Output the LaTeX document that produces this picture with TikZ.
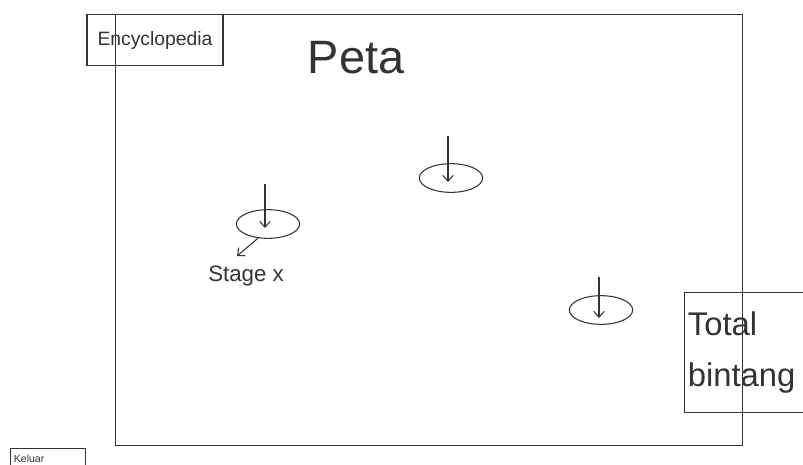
\documentclass[tikz,border=0pt]{standalone}
\usepackage{fontspec}
\setmainfont{Liberation Sans}
\usetikzlibrary{positioning,arrows.meta,shapes.geometric}
\definecolor{pencil}{HTML}{333333}

\begin{document}
\begin{tikzpicture}[
    x=0.03cm, y=-0.03cm,
    panel/.style={rectangle, draw=pencil, line width=0.9pt, inner sep=0pt},
    stageNode/.style={ellipse, draw=pencil, line width=0.9pt, minimum width=1.9cm, minimum height=0.86cm, inner sep=0pt},
    pinArrow/.style={-{Straight Barb[length=5pt,width=9pt]}, draw=pencil, line width=0.9pt}
]
    \useasboundingbox (0,0) rectangle (803,464);

    % map area
    \node[panel, anchor=north west, minimum width=18.81cm, minimum height=12.93cm] (map) at (115,14) {};
    \node[font=\fontsize{40}{40}\selectfont, text=pencil] (title) at (356,58) {Peta};

    % top-left button
    \node[panel, minimum width=4.08cm, minimum height=1.53cm, font=\fontsize{16.5}{16.5}\selectfont, text=pencil] (ency) at (155,40) {Encyclopedia};

    % stages on the map
    \node[stageNode] (stageA) at (268,224) {};
    \node[stageNode] (stageB) at (451,178) {};
    \node[stageNode] (stageC) at (601,310) {};

    \coordinate (inA) at (265,184);
    \coordinate (inB) at (448,136);
    \coordinate (inC) at (599,277);
    \draw[pinArrow] (inA) -- (265,228);
    \draw[pinArrow] (inB) -- (448,182);
    \draw[pinArrow] (inC) -- (599,318);

    \node[font=\fontsize{19}{19}\selectfont, text=pencil] (stageLabel) at (246,276) {Stage x};
    \coordinate (outA) at (237,256);
    \draw[pinArrow] (stageA.235) -- (outA);

    % star counter
    \node[panel, anchor=north west, minimum width=4.2cm, minimum height=3.6cm, text width=4.0cm, align=left, inner xsep=0.1cm, font=\fontsize{28}{44}\selectfont, text=pencil] (stars) at (684,292) {Total\\bintang};

    % exit button
    \node[panel, anchor=north west, minimum width=2.19cm, minimum height=0.9cm, text width=2.05cm, align=left, inner xsep=0.1cm, inner ysep=0.08cm, font=\fontsize{9}{9}\selectfont, text=pencil] (exit) at (10,448) {\raisebox{0.28cm}{Keluar}};
\end{tikzpicture}
\end{document}
